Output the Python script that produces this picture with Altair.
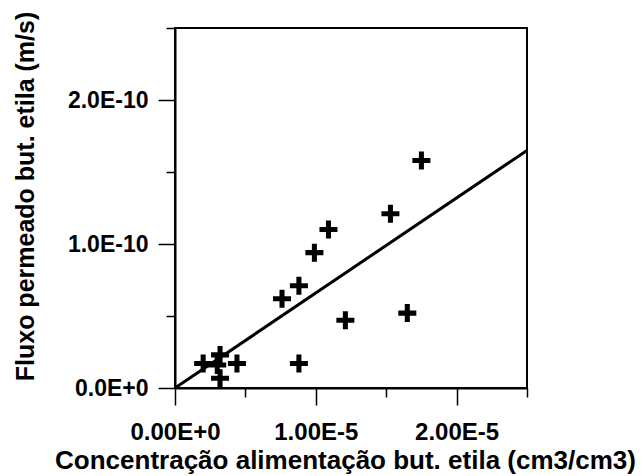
import altair as alt
import pandas as pd

# Data
conc = [0.20e-5, 0.32e-5, 0.30e-5, 0.32e-5, 0.44e-5, 0.88e-5, 0.76e-5,
        0.88e-5, 0.99e-5, 1.09e-5, 1.21e-5, 1.53e-5, 1.65e-5, 1.75e-5]
flux = [0.17e-10, 0.23e-10, 0.16e-10, 0.067e-10, 0.17e-10, 0.17e-10, 0.62e-10,
        0.71e-10, 0.94e-10, 1.10e-10, 0.47e-10, 1.21e-10, 0.52e-10, 1.58e-10]
fit_x = [0.0, 2.5e-5]
fit_y = [0.0, 1.65e-10]
x_ticks = [0.0, 0.5e-5, 1.0e-5, 1.5e-5, 2.0e-5, 2.5e-5]
y_ticks = [0.0, 0.5e-10, 1.0e-10, 1.5e-10, 2.0e-10, 2.5e-10]

pts = pd.DataFrame({"x": conc, "y": flux})
fit = pd.DataFrame({"x": fit_x, "y": fit_y})

FONT = "Liberation Sans"
x_major = "abs(datum.value*1e5 - round(datum.value*1e5)) < 0.01"
y_major = "abs(datum.value*1e10 - round(datum.value*1e10)) < 0.01"

x_axis = alt.Axis(
    values=x_ticks,
    title="Concentração alimentação but. etila (cm3/cm3)",
    labelExpr=f"{x_major} ? (round(datum.value*1e5) == 0 ? '0.00E+0' : format(datum.value*1e5, '.2f') + 'E-5') : ''",
    tickSize={"condition": {"test": x_major, "value": 17}, "value": 9},
    labelFontSize=24,
    labelPadding=15,
    labelFlush=False,
    labelOverlap=False,
    titleFontSize=26,
    titleX=170,
    titleY=80,
    titleAlign="center",
    titleBaseline="alphabetic",
)
y_axis = alt.Axis(
    values=y_ticks,
    title="Fluxo permeado but. etila (m/s)",
    labelExpr=f"{y_major} ? (round(datum.value*1e10) == 0 ? '0.0E+0' : format(datum.value*1e10, '.1f') + 'E-10') : ''",
    tickSize={"condition": {"test": y_major, "value": 17}, "value": 9},
    labelFontSize=23,
    labelPadding=10,
    labelFlush=False,
    labelOverlap=False,
    titleFontSize=25,
    titleX=-142,
    titleY=168,
    titleAngle=-90,
    titleAlign="center",
    titleBaseline="alphabetic",
)

xs = alt.Scale(domain=[0, 2.5e-5], nice=False, zero=True)
ys = alt.Scale(domain=[0, 2.5e-10], nice=False, zero=True)

plus = "M-0.28,-1H0.28V-0.28H1V0.28H0.28V1H-0.28V0.28H-1V-0.28H-0.28Z"

points = alt.Chart(pts).mark_point(
    shape=plus, size=324, filled=True, color="black", opacity=1, strokeWidth=0
).encode(
    x=alt.X("x:Q", scale=xs, axis=x_axis),
    y=alt.Y("y:Q", scale=ys, axis=y_axis),
)

line = alt.Chart(fit).mark_line(color="black", strokeWidth=3).encode(
    x=alt.X("x:Q", scale=xs, axis=x_axis),
    y=alt.Y("y:Q", scale=ys, axis=y_axis),
)

chart = alt.layer(line, points).properties(
    width=352,
    height=360,
    autosize=alt.AutoSizeParams(type="none"),
    padding={"left": 175, "top": 28, "right": 116, "bottom": 88},
    background="white",
).configure_view(
    stroke="black", strokeWidth=2
).configure_axis(
    grid=False,
    domainColor="black",
    domainWidth=2,
    tickColor="black",
    tickWidth=1.5,
    labelColor="black",
    labelFont=FONT,
    labelFontWeight="bold",
    titleColor="black",
    titleFont=FONT,
    titleFontWeight="bold",
)

chart.save("out.html", embed_options={"renderer": "svg", "actions": False})
